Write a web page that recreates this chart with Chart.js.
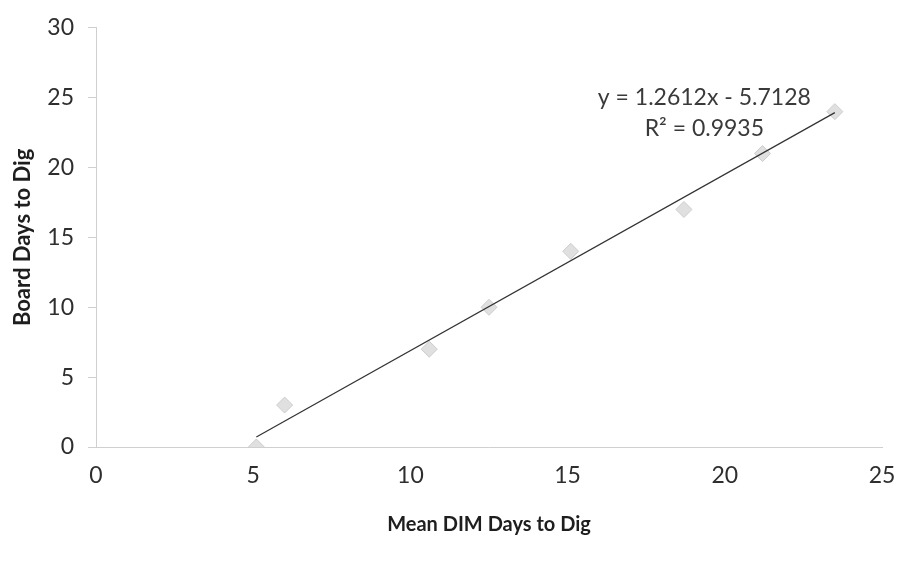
<!DOCTYPE html>
<html>
<head>
<meta charset="utf-8">
<script src="https://cdn.jsdelivr.net/npm/chart.js@4"></script>
<style>
  html, body { margin: 0; padding: 0; background: #fff; }
  #wrap { width: 921px; height: 567px; }
</style>
</head>
<body>
<div id="wrap"><canvas id="chart"></canvas></div>
<script>
// values
const meanDim = [5.1, 6.0, 10.6, 12.5, 15.1, 18.7, 21.2, 23.5];
const boardDays = [0, 3, 7, 10, 14, 17, 21, 24];
const trendX = [5.1, 23.5];
const trendY = [0.72, 23.93];
const eqLines = ['y = 1.2612x - 5.7128', 'R² = 0.9935'];

const TEXT = '#2e2e2e';
const AXIS = '#cfcfcf';
const FONT = 'Lato, "Open Sans", sans-serif';

const equationLabel = {
  id: 'equationLabel',
  afterDatasetsDraw(chart) {
    const { ctx, scales: { x, y } } = chart;
    ctx.save();
    ctx.fillStyle = '#3a3a3a';
    ctx.font = '23px ' + FONT;
    ctx.textAlign = 'center';
    ctx.textBaseline = 'middle';
    const cx = x.getPixelForValue(19.35);
    ctx.fillText(eqLines[0], cx, y.getPixelForValue(25.0));
    ctx.fillText(eqLines[1], cx, y.getPixelForValue(22.8));
    ctx.restore();
  }
};

new Chart(document.getElementById('chart'), {
  type: 'scatter',
  data: {
    datasets: [
      {
        label: 'Data',
        data: meanDim.map((v, i) => ({ x: v, y: boardDays[i] })),
        pointStyle: 'rectRot',
        pointRadius: 8,
        backgroundColor: '#e0e0e0',
        borderColor: '#cccccc',
        borderWidth: 1,
        order: 2,
      },
      {
        label: 'Trend',
        type: 'line',
        data: trendX.map((v, i) => ({ x: v, y: trendY[i] })),
        borderColor: '#333333',
        borderWidth: 1.2,
        pointRadius: 0,
        fill: false,
        order: 1,
      },
    ],
  },
  options: {
    responsive: true,
    maintainAspectRatio: false,
    animation: false,
    layout: { padding: { top: 26, right: 39, bottom: 26, left: 0 } },
    plugins: { legend: { display: false }, tooltip: { enabled: false } },
    scales: {
      x: {
        min: 0, max: 25,
        ticks: { stepSize: 5, color: TEXT, font: { family: FONT, size: 23 }, padding: 7 },
        grid: { display: false },
        border: { color: AXIS, dash: [3, 2] },
        title: { display: true, text: 'Mean DIM Days to Dig', color: '#1e1e1e', font: { family: FONT, size: 20, weight: 'bold' }, padding: { top: 18 } },
        afterFit(s) { s.height = 94; },
      },
      y: {
        min: 0, max: 30,
        ticks: { stepSize: 5, color: TEXT, font: { family: FONT, size: 23 }, padding: 14 },
        grid: { drawOnChartArea: false, tickLength: 8, color: AXIS },
        border: { color: AXIS },
        title: { display: true, text: 'Board Days to Dig', color: '#1e1e1e', font: { family: FONT, size: 22, weight: 'bold' }, padding: { bottom: 0, top: 10 } },
        afterFit(s) { s.width = 96; },
      },
    },
  },
  plugins: [equationLabel],
});
</script>
</body>
</html>
